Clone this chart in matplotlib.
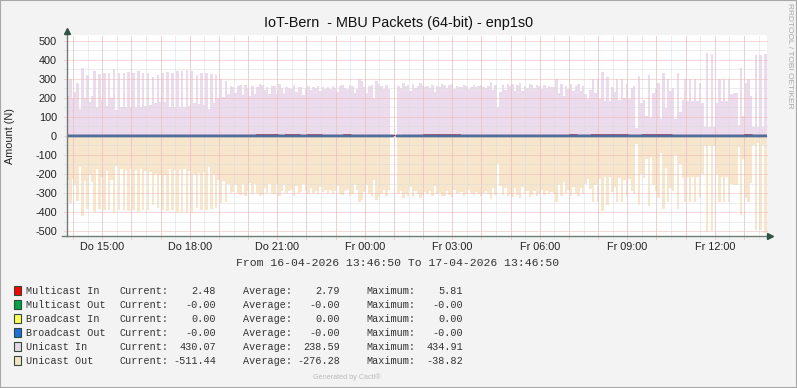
import matplotlib
matplotlib.use('agg')
import matplotlib.pyplot as plt
from matplotlib.patches import Rectangle
import numpy as np

nan = np.nan

# 5-minute samples over 24 h (12 per hour), starting 16-04-2026 13:46:50
unicast_in = [
    210, 300, 200, 230, 280, 140, 360, 200, 320, 180, 210, 340,
    150, 325, 190, 330, 160, 330, 200, 350, 135, 330, 150, 330,
    155, 335, 150, 330, 155, 340, 150, 330, 160, 330, 165, 310,
    175, 320, 180, 330, 180, 335, 150, 330, 155, 340, 155, 340,
    150, 345, 160, 340, 175, 320, 170, 330, 165, 330, 140, 325,
    175, 320, 200, 300, 205, 290, 220, 262, 258, 228, 264, 268,
    215, 270, 250, 212, 265, 222, 258, 272, 268, 240, 260, 220,
    262, 265, 220, 272, 252, 225, 260, 250, 248, 270, 232, 260,
    255, 215, 250, 262, 240, 258, 250, 262, 238, 255, 248, 258,
    245, 262, 250, 232, 262, 268, 252, 245, 270, 262, 225, 248,
    300, 290, 255, 228, 262, 270, 200, 290, 275, 262, 245, 270,
    248, 255, nan, nan, 262, 250, 280, 262, 270, 235, 275, 250,
    262, 280, 268, 255, 265, 250, 270, 230, 262, 258, 272, 270,
    252, 268, 275, 245, 262, 260, 255, 270, 262, 245, 258, 268,
    255, 262, 270, 258, 250, 262, 285, 240, 268, 150, 230, 268,
    240, 272, 262, 275, 238, 268, 280, 235, 262, 250, 275, 268,
    250, 270, 262, 245, 268, 252, 262, 255, 260, 298, 225, 272,
    210, 262, 245, 272, 235, 262, 272, 238, 262, 220, 193, 240,
    298, 225, 298, 193, 337, 185, 312, 185, 255, 232, 298, 190,
    298, 200, 272, 195, 252, 262, 44, 316, 175, 190, 105, 319,
    96, 225, 250, 280, 88, 333, 149, 298, 237, 250, 88, 333,
    126, 190, 298, 185, 298, 185, 298, 185, 280, 175, 49, 434.91,
    49, 430, 49, 175, 298, 185, 298, 185, 298, 220, 225, 225,
    56, 360, 105, 280, 298, 210, 45, 425, 45, 426, 45, 430.07,
]

unicast_out = [
    -230, -350, -225, -260, -340, -165, -420, -235, -385, -205, -240, -400,
    -175, -385, -215, -390, -185, -390, -230, -405, -160, -390, -175, -390,
    -180, -395, -175, -390, -180, -400, -175, -390, -185, -390, -190, -365,
    -200, -380, -205, -390, -205, -395, -175, -390, -180, -400, -180, -400,
    -175, -405, -185, -400, -200, -380, -195, -390, -190, -390, -165, -385,
    -200, -380, -230, -355, -235, -345, -250, -300, -295, -260, -305, -310,
    -250, -315, -290, -245, -305, -255, -300, -315, -310, -275, -300, -255,
    -300, -305, -255, -315, -290, -260, -300, -290, -285, -315, -265, -300,
    -295, -250, -290, -305, -275, -300, -290, -305, -270, -295, -285, -300,
    -285, -305, -290, -265, -305, -310, -290, -285, -315, -305, -260, -285,
    -345, -335, -295, -260, -305, -315, -230, -335, -320, -305, -285, -315,
    -285, -295, nan, nan, -305, -290, -325, -305, -315, -270, -320, -290,
    -305, -325, -310, -295, -305, -290, -315, -265, -305, -300, -315, -315,
    -290, -310, -320, -285, -305, -300, -295, -315, -305, -285, -300, -310,
    -295, -305, -315, -300, -290, -305, -330, -275, -310, -150, -265, -310,
    -275, -315, -305, -320, -275, -310, -325, -270, -305, -290, -320, -310,
    -290, -315, -305, -285, -310, -290, -305, -295, -300, -345, -260, -315,
    -240, -305, -285, -315, -270, -305, -315, -275, -305, -255, -225, -280,
    -345, -260, -345, -225, -395, -215, -365, -215, -295, -270, -345, -220,
    -345, -230, -315, -225, -290, -305, -44, -365, -200, -220, -123, -370,
    -110, -260, -290, -325, -88, -386, -170, -345, -275, -290, -100, -385,
    -145, -220, -345, -215, -345, -215, -345, -215, -325, -200, -53, -505,
    -55, -500, -55, -200, -345, -215, -345, -215, -345, -255, -260, -260,
    -60, -415, -120, -325, -345, -245, -50, -495, -38.82, -495, -50, -511.44,
]

# 15-minute samples (4 per hour)
multicast_in = [
    2.5, 2.4, 2.6, 2.5, 2.5, 2.6, 2.4, 2.5, 2.6, 2.5, 2.5, 2.4,
    2.5, 2.5, 2.6, 2.5, 2.4, 2.5, 2.5, 2.6, 2.5, 2.5, 2.4, 2.5,
    2.6, 2.5, 5.5, 5.4, 5.6, 2.5, 5.5, 5.5, 2.5, 5.4, 5.6, 2.5,
    2.6, 2.5, 5.5, 2.5, 2.4, 2.5, 2.6, 2.5, 2.5, nan, 2.5, 2.6,
    2.5, 5.6, 5.81, 5.5, 5.6, 5.4, 2.5, 2.6, 2.5, 2.4, 2.5, 2.6,
    2.5, 2.5, 2.4, 2.5, 2.6, 2.5, 2.5, 2.4, 2.5, 5.5, 2.5, 2.6,
    5.6, 5.5, 5.7, 5.5, 5.4, 2.5, 2.6, 5.5, 5.6, 5.5, 5.5, 2.5,
    2.6, 2.5, 2.4, 2.5, 2.5, 2.6, 2.5, 2.5, 2.4, 5.5, 2.5, 2.48,
]

x_labels = ['Do 15:00', 'Do 18:00', 'Do 21:00', 'Fr 00:00',
            'Fr 03:00', 'Fr 06:00', 'Fr 09:00', 'Fr 12:00']
y_ticks = [500, 400, 300, 200, 100, 0, -100, -200, -300, -400, -500]

legend_names = ['Multicast In', 'Multicast Out', 'Broadcast In',
                'Broadcast Out', 'Unicast In', 'Unicast Out']
legend_current = ['2.48', '-0.00', '0.00', '-0.00', '430.07', '-511.44']
legend_average = ['2.79', '-0.00', '0.00', '-0.00', '238.59', '-276.28']
legend_maximum = ['5.81', '-0.00', '0.00', '-0.00', '434.91', '-38.82']
legend_colors = ['#FF0000', '#00A348', '#FFFF55', '#1F6FD8', '#E6D6E6', '#F6E2C6']

W, H = 797, 388
IN_FILL = '#EBDBEC'
OUT_FILL = '#F8E6CC'
AXIS_C = '#6E7E76'
SANS = 'Liberation Sans'
MONO = 'Liberation Mono'

fig = plt.figure(figsize=(W / 100, H / 100), dpi=100)
fig.patch.set_facecolor('#F3F3F3')
fig.patches.append(Rectangle((0, 0), 1, 1, transform=fig.transFigure,
                             fill=False, edgecolor='#A8A8A8', linewidth=1.5))

ax = fig.add_axes([66.7 / W, (H - 236) / H, 700 / W, 201 / H])
ax.set_facecolor('white')
YMIN, YMAX = -526, 531
ax.set_xlim(0, 24)
ax.set_ylim(YMIN, YMAX)
for s in ax.spines.values():
    s.set_visible(False)

# areas (step per sample)
uin = np.array(unicast_in, dtype=float)
uout = np.array(unicast_out, dtype=float)
x5 = np.arange(len(uin) + 1) / 12.0
ax.fill_between(x5, 0, np.append(uin, uin[-1]), step='post',
                color=IN_FILL, linewidth=0, zorder=1)
ax.fill_between(x5, 0, np.append(uout, uout[-1]), step='post',
                color=OUT_FILL, linewidth=0, zorder=1)

# grid
off = 13 / 60 + 10 / 3600          # 13:46:50 -> 14:00
half = np.arange(off - 0.5, 24, 0.5)
half = half[half > 0]
hours = np.arange(off, 24, 1.0)
dot = (0, (1, 1))
GRID_MINOR = '#DCDCDC'
GRID_MAJOR = '#F2B4B4'
ax.vlines(half, YMIN - 15, YMAX, colors=GRID_MINOR, linewidth=0.72,
          linestyle=dot, zorder=2, clip_on=False)
ax.vlines(hours, YMIN - 15, YMAX, colors=GRID_MAJOR, linewidth=0.72,
          linestyle=dot, zorder=2, clip_on=False)
ax.hlines(np.arange(-450, 500, 100), -0.1, 24, colors=GRID_MINOR,
          linewidth=0.72, linestyle=dot, zorder=2, clip_on=False)
ax.hlines(y_ticks, -0.1, 24, colors=GRID_MAJOR, linewidth=0.72,
          linestyle=dot, zorder=2, clip_on=False)

# small lines near zero
mc = np.array(multicast_in, dtype=float)
x15 = np.arange(len(mc) + 1) / 4.0
ax.step(x15, np.append(mc, mc[-1]), where='post', color='#C0102A',
        linewidth=0.9, zorder=3, snap=False)
bout = np.zeros(len(uin))
bout[np.isnan(uin)] = np.nan
ax.step(x5, np.append(bout, bout[-1]), where='post', color='#4E6E9E',
        linewidth=2.0, zorder=4, snap=False)

# axes lines with arrows
ax.plot([0, 0], [YMIN, 548], color=AXIS_C, linewidth=1, clip_on=False, zorder=5)
ax.plot([-0.17, 24.08], [YMIN, YMIN], color=AXIS_C, linewidth=1,
        clip_on=False, zorder=5)
ax.plot([0], [553], marker='^', markersize=5, color='#2F5545',
        clip_on=False, zorder=6)
ax.plot([24.13], [YMIN], marker='>', markersize=5, color='#2F5545',
        clip_on=False, zorder=6)

# ticks / labels
ax.set_xticks(np.arange(off + 1, 24, 3.0), x_labels)
ax.set_yticks(y_ticks, [str(v) for v in y_ticks])
ax.tick_params(axis='both', length=0, labelsize=7.8, colors='#222222')
ax.tick_params(axis='x', pad=4)
ax.tick_params(axis='y', pad=7)
for t in ax.get_xticklabels() + ax.get_yticklabels():
    t.set_fontfamily(SANS)


def ftext(x, y, s, **kw):
    fig.text(x / W, 1 - y / H, s, **kw)


ftext(398, 23, 'IoT-Bern  - MBU Packets (64-bit) - enp1s0', ha='center',
      va='center', fontsize=10.4, family=SANS, color='#111111')
ftext(10, 136, 'Amount (N)', ha='center', va='center', rotation=90,
      fontsize=7.8, family=SANS, color='#222222')
ftext(789, 56, 'RRDTOOL / TOBI OETIKER', ha='center', va='center',
      rotation=270, fontsize=6, family=SANS, color='#AAAAAA')
ftext(398, 263, 'From 16-04-2026 13:46:50 To 17-04-2026 13:46:50',
      ha='center', va='center', fontsize=8.2, family=MONO, color='#333333')

rows = [290.7, 304.7, 318.7, 332.7, 346.7, 360.7]
for i, y in enumerate(rows):
    fig.patches.append(Rectangle((13.5 / W, 1 - (y + 4.3) / H), 7 / W, 8.6 / H,
                                 transform=fig.transFigure, facecolor=legend_colors[i],
                                 edgecolor='#2F4A3A', linewidth=0.8))
    kw = dict(va='center', fontsize=7.3, family=MONO, color='#333333')
    ftext(26, y, legend_names[i], ha='left', **kw)
    ftext(119.3, y, 'Current:', ha='left', **kw)
    ftext(216, y, legend_current[i], ha='right', **kw)
    ftext(242.7, y, 'Average:', ha='left', **kw)
    ftext(340, y, legend_average[i], ha='right', **kw)
    ftext(366.7, y, 'Maximum:', ha='left', **kw)
    ftext(463.3, y, legend_maximum[i], ha='right', **kw)

ftext(347, 377.5, 'Generated by Cacti\u00ae', ha='center', va='center',
      fontsize=5.2, family=SANS, color='#BBBBBB')

fig.savefig('out.png', dpi=100, facecolor=fig.get_facecolor())
